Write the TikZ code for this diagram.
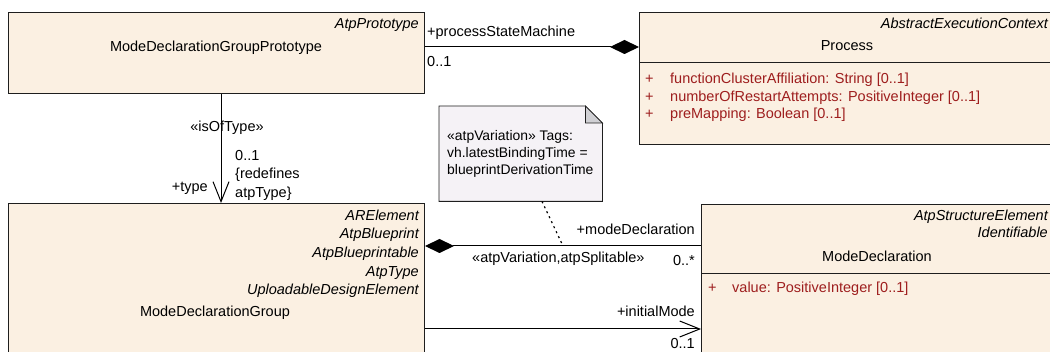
\documentclass[tikz,border=0pt]{standalone}
\usepackage{fontspec}
\setmainfont{Liberation Sans}
\usetikzlibrary{arrows.meta,calc}
\definecolor{boxfill}{RGB}{251,240,226}
\definecolor{notefill}{RGB}{245,242,246}
\definecolor{foldgray}{RGB}{208,208,212}
\definecolor{attrred}{RGB}{158,30,30}
\definecolor{edgecol}{RGB}{30,30,30}
\newcommand\umlfont{\fontsize{14.5}{17}\selectfont}
\newcommand\notefont{\fontsize{13.9}{16}\selectfont}
\tikzset{
  umlbox/.style={draw=edgecol, line width=1pt, fill=boxfill, inner sep=0pt, anchor=north west},
  txt/.style={inner sep=0pt, font=\umlfont, text=black},
  stereo/.style={txt, font=\umlfont\itshape, anchor=base east},
  attr/.style={txt, text=attrred, anchor=base west},
  lbl/.style={txt},
  notetxt/.style={inner sep=0pt, font=\notefont, anchor=base west},
  assoc/.style={draw=black, line width=1pt},
  diam/.style={assoc, -{Diamond[length=29pt,width=14pt,fill=black]}},
  diamstart/.style={assoc, {Diamond[length=29pt,width=14pt,fill=black]}-},
  navi/.style={assoc, -{Straight Barb[length=20pt,width=16pt]}},
}
\begin{document}
\begin{tikzpicture}[x=1pt,y=-1pt]
\useasboundingbox (0,0) rectangle (1050,352);
\clip (0,0) rectangle (1050,352);

% ModeDeclarationGroupPrototype
\node[umlbox, minimum width=416pt, minimum height=81pt] (mdgp) at (8,12) {};
\node[stereo] (mdgpst) at (419,29) {AtpPrototype};
\node[txt, anchor=base] (mdgpname) at (216,52) {ModeDeclarationGroupPrototype};

% Process
\node[umlbox, minimum width=416pt, minimum height=132pt] (proc) at (639,12) {};
\draw[draw=edgecol, line width=1pt] (proc.west |- 0,63) -- (proc.east |- 0,63);
\node[stereo] (procst) at (1048,29) {AbstractExecutionContext};
\node[txt, anchor=base] (procname) at (847,51) {Process};
\node[attr] (procp1) at (645,84) {+};
\node[attr] (proca1) at (670,84) {functionClusterAffiliation: String [0..1]};
\node[attr] (procp2) at (645,102) {+};
\node[attr] (proca2) at (670,102) {numberOfRestartAttempts: PositiveInteger [0..1]};
\node[attr] (procp3) at (645,119) {+};
\node[attr] (proca3) at (670,119) {preMapping: Boolean [0..1]};

% ModeDeclarationGroup
\node[umlbox, minimum width=416pt, minimum height=170pt] (mdg) at (8,203) {};
\node[stereo] (mdgs1) at (419,221) {ARElement};
\node[stereo] (mdgs2) at (419,239) {AtpBlueprint};
\node[stereo] (mdgs3) at (419,258) {AtpBlueprintable};
\node[stereo] (mdgs4) at (419,277) {AtpType};
\node[stereo] (mdgs5) at (419,295) {UploadableDesignElement};
\node[txt, anchor=base] (mdgname) at (215,317) {ModeDeclarationGroup};

% ModeDeclaration
\node[umlbox, minimum width=353pt, minimum height=170pt] (md) at (701,204) {};
\draw[draw=edgecol, line width=1pt] (md.west |- 0,274) -- (md.east |- 0,274);
\node[stereo] (mds1) at (1048,221) {AtpStructureElement};
\node[stereo] (mds2) at (1048,238) {Identifiable};
\node[txt, anchor=base] (mdname) at (877,262) {ModeDeclaration};
\node[attr] (mdp1) at (708,293) {+};
\node[attr] (mda1) at (732,293) {value: PositiveInteger [0..1]};

% Note
\node[inner sep=0pt, anchor=north west, minimum width=163pt, minimum height=95pt] (note) at (439,106) {};
\draw[draw=edgecol, line width=0.8pt, fill=notefill]
  (note.north west) -- ([xshift=-17pt]note.north east) -- ([yshift=-17pt]note.north east)
  -- (note.south east) -- (note.south west) -- cycle;
\draw[draw=edgecol, line width=0.8pt, fill=foldgray]
  ([xshift=-17pt]note.north east) -- ([xshift=-17pt,yshift=-17pt]note.north east)
  -- ([yshift=-17pt]note.north east) -- cycle;
\node[notetxt] (nt1) at (447,141) {«atpVariation» Tags:};
\node[notetxt] (nt2) at (447,158) {vh.latestBindingTime =};
\node[notetxt] (nt3) at (447,175) {blueprintDerivationTime};

% processStateMachine
\draw[diam] (mdgp.east |- 0,47) -- (proc.west |- 0,47);
\node[lbl, anchor=base west] (psm) at (427,37) {+processStateMachine};
\node[lbl, anchor=base west] (psmm) at (427,67) {0..1};

% isOfType
\draw[navi] (mdgp.south -| 221,0) -- (mdg.north -| 221,0);
\node[lbl, anchor=base] (iot) at (227,132) {«isOfType»};
\node[lbl, anchor=base west] (iotm1) at (235,161) {0..1};
\node[lbl, anchor=base west] (iotm2) at (235,179) {\{redefines};
\node[lbl, anchor=base west] (iotm3) at (235,198) {atpType\}};
\node[lbl, anchor=base east] (iotr) at (208,192) {+type};

% modeDeclaration
\coordinate (mdj) at (563,246);
\draw[diamstart] (mdg.east |- 0,246) -- (md.west |- 0,246);
\node[lbl, anchor=base east] (mdr) at (695,235) {+modeDeclaration};
\node[lbl, anchor=base west] (mdst) at (472,263) {«atpVariation,atpSplitable»};
\node[lbl, anchor=base east] (mdm) at (695,266) {0..*};
\draw[black, line width=1.2pt, dash pattern=on 2pt off 3.5pt] (note.south -| 542,0) -- (mdj);

% initialMode
\draw[navi] (mdg.east |- 0,329) -- (md.west |- 0,329);
\node[lbl, anchor=base east] (imr) at (695,317) {+initialMode};
\node[lbl, anchor=base east] (imm) at (695,349) {0..1};
\end{tikzpicture}
\end{document}
